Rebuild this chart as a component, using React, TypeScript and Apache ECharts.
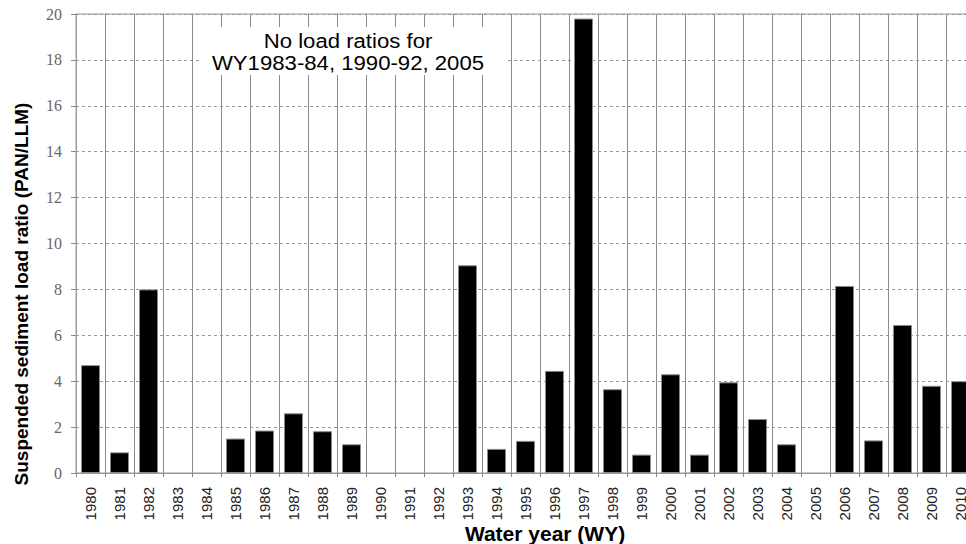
import React, { useEffect, useRef } from "react";
import * as echarts from "echarts";

const years: string[] = [
  "1980", "1981", "1982", "1983", "1984", "1985", "1986", "1987", "1988", "1989",
  "1990", "1991", "1992", "1993", "1994", "1995", "1996", "1997", "1998", "1999",
  "2000", "2001", "2002", "2003", "2004", "2005", "2006", "2007", "2008", "2009", "2010",
];

const loadRatios: (number | null)[] = [
  4.7, 0.9, 8.0, null, null, 1.5, 1.85, 2.6, 1.82, 1.25,
  null, null, null, 9.05, 1.05, 1.4, 4.45, 19.8, 3.65, 0.8,
  4.3, 0.8, 3.95, 2.35, 1.25, null, 8.15, 1.42, 6.45, 3.8, 4.0,
];

const yTitle = "Suspended sediment load ratio (PAN/LLM)";
const xTitle = "Water year (WY)";
const noteLines = ["No load ratios for", "WY1983-84, 1990-92, 2005"];

const SANS = "'Liberation Sans', Arial, sans-serif";
const SERIF = "'Liberation Serif', 'Times New Roman', serif";

export default function App() {
  const ref = useRef<HTMLDivElement>(null);
  useEffect(() => {
    if (!ref.current) return;
    const chart = echarts.init(ref.current, null, { renderer: "svg" });
    chart.setOption({
      animation: false,
      backgroundColor: "#ffffff",
      grid: {
        left: 76,
        top: 14,
        width: 899,
        height: 459,
        containLabel: false,
        outerBoundsMode: "none",
        show: true,
        borderColor: "#999999",
        borderWidth: 1,
        backgroundColor: "transparent",
      },
      xAxis: {
        type: "category",
        data: years,
        boundaryGap: true,
        axisLine: { show: true, lineStyle: { color: "#999999", width: 1 } },
        axisTick: { show: true, alignWithLabel: false, interval: 0, length: 4, lineStyle: { color: "#888888" } },
        axisLabel: {
          interval: 0,
          rotate: 90,
          margin: 14,
          fontSize: 15,
          fontFamily: SANS,
          color: "#222222",
          hideOverlap: false,
        },
        splitLine: { show: true, interval: 0, lineStyle: { color: "#8c8c8c", width: 1, type: "solid" } },
      },
      yAxis: {
        type: "value",
        min: 0,
        max: 20,
        interval: 2,
        axisLine: { show: true, lineStyle: { color: "#999999", width: 1 } },
        axisTick: { show: true, length: 5, lineStyle: { color: "#888888" } },
        axisLabel: { fontSize: 16, fontFamily: SERIF, color: "#666666", margin: 14 },
        splitLine: { show: true, lineStyle: { color: "#999999", width: 1, type: [3, 3] } },
      },
      series: [
        {
          type: "bar",
          data: loadRatios,
          barWidth: 19,
          itemStyle: { color: "#000000", borderColor: "#8a8a8a", borderWidth: 1 },
          silent: true,
        },
      ],
      graphic: [
        {
          type: "rect",
          shape: { x: 200, y: 27, width: 305, height: 48 },
          style: { fill: "#ffffff" },
          z: 10,
        },
        {
          type: "text",
          x: 348,
          y: 52,
          scaleX: 1.055,
          z: 11,
          style: {
            text: noteLines.join("\n"),
            font: `21px ${SANS}`,
            lineHeight: 22,
            fill: "#000000",
            align: "center",
            verticalAlign: "middle",
          },
        },
        {
          type: "text",
          x: 21,
          y: 294,
          rotation: Math.PI / 2,
          z: 11,
          style: {
            text: yTitle,
            font: `bold 19px ${SANS}`,
            fill: "#000000",
            align: "center",
            verticalAlign: "middle",
          },
        },
        {
          type: "text",
          x: 545,
          y: 544,
          z: 11,
          style: {
            text: xTitle,
            font: `bold 21px ${SANS}`,
            fill: "#000000",
            align: "center",
            verticalAlign: "bottom",
          },
        },
      ],
    });
    return () => chart.dispose();
  }, []);
  return (
    <div
      ref={ref}
      style={{ position: "fixed", left: 0, top: 0, width: 966, height: 544, background: "#fff" }}
    />
  );
}
